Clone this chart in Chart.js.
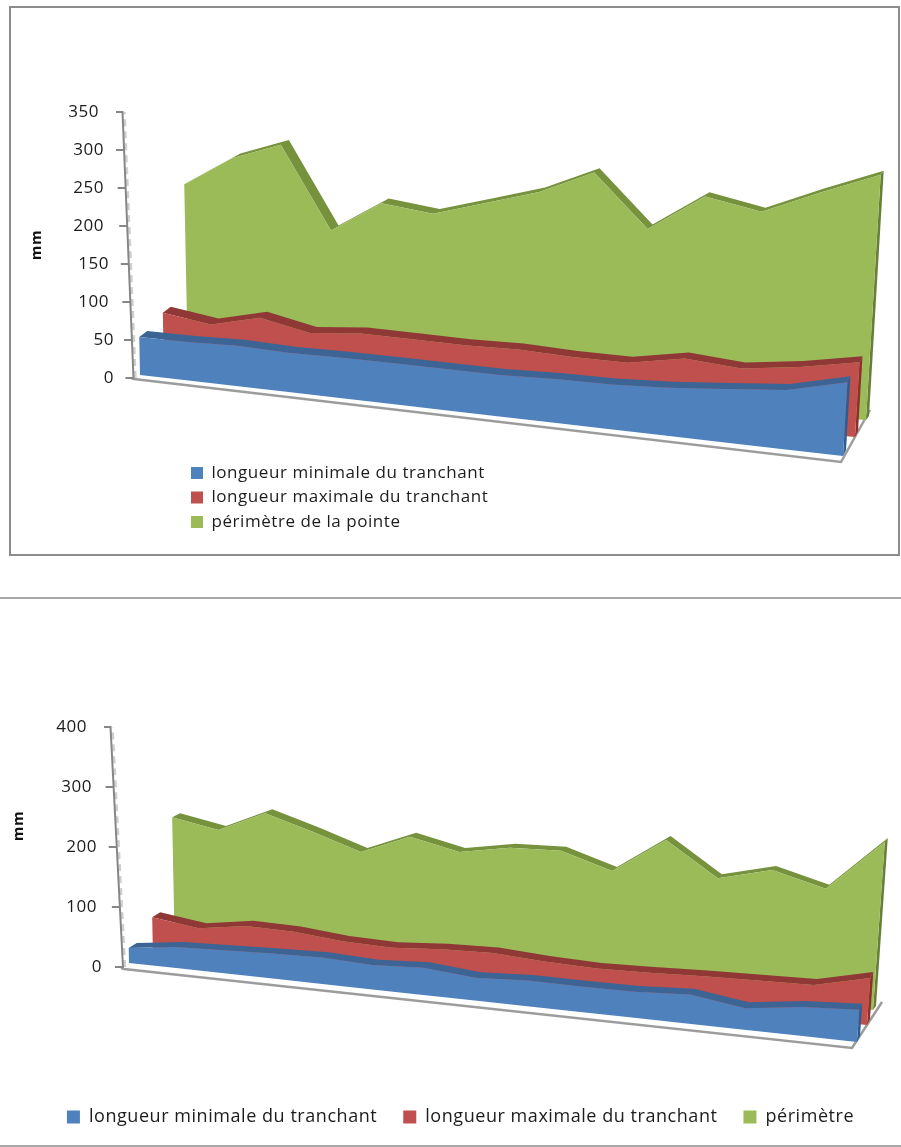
<!DOCTYPE html>
<html lang="fr">
<head>
<meta charset="utf-8">
<title>Longueur du tranchant et périmètre</title>
<script src="https://cdn.jsdelivr.net/npm/chart.js@4/dist/chart.umd.min.js"></script>
<style>
  body { margin: 0; background: #fff; width: 901px; height: 1147px; position: relative; overflow: hidden; }
  canvas { position: absolute; left: 0; }
  .box { position: absolute; left: 9px; top: 6px; width: 887px; height: 546px; border: 2px solid #8c8c8c; }
  .rule { position: absolute; left: 0; width: 901px; height: 2px; background: #a8a8a8; }
</style>
</head>
<body>
<div class="box"></div>
<div class="rule" style="top:597px"></div>
<div class="rule" style="top:1145px"></div>
<canvas id="chart1" width="901" height="590" style="top:0"></canvas>
<canvas id="chart2" width="901" height="567" style="top:580px"></canvas>
<script>
// first chart
const names1 = ['longueur minimale du tranchant', 'longueur maximale du tranchant', 'périmètre de la pointe'];
const minimale1 = [50, 49, 50, 47, 47, 46, 45, 44, 45, 45, 47, 51, 55, 67];
const maximale1 = [78, 66, 78, 63, 66, 63, 60, 59, 55, 53, 61, 55, 60, 68];
const pointe1 = [247, 276, 288, 181, 211, 197, 207, 217, 235, 176, 207, 191, 208, 223];
const ticks1 = [0, 50, 100, 150, 200, 250, 300, 350];

// second chart
const names2 = ['longueur minimale du tranchant', 'longueur maximale du tranchant', 'périmètre'];
const minimale2 = [25, 34, 36, 38, 39, 35, 38, 31, 34, 33, 33, 36, 26, 34, 37];
const maximale2 = [68, 55, 64, 60, 51, 47, 50, 50, 44, 40, 40, 41, 41, 41, 54];
const perimetre2 = [238, 215, 240, 210, 179, 201, 179, 185, 181, 155, 195, 148, 159, 138, 193];
const ticks2 = [0, 100, 200, 300, 400];

const colors = [
  { face: '#4f81bd', roof: '#3c6494', end: '#2f5d92' },
  { face: '#c0504d', roof: '#8f3836', end: '#8f2f2d' },
  { face: '#9bbb59', roof: '#76923c', end: '#66803a' }
];
const FONT = '"Open Sans", sans-serif';
const AREA_TOP = 20;

const lerp = (a, b, t) => a + (b - a) * t;

// perspective of the 3D view, in page pixels
const view1 = {
  top: 0, areaBottom: 470, axisWidth: 116, titlePad: 28, y0: 378, k0: 0.76, k1: 1.1, bend: 0.89,
  lean0: -0.02, lean1: 0.06, tickShift: 2.7, tickFont: 17,
  bases: [
    { x0: 140, y0: 375, x1: 843, y1: 456, roof0: [8, -6], roof1: [3, -6] },
    { x0: 164, y0: 372, x1: 855, y1: 437, roof0: [8, -6], roof1: [3, -6] },
    { x0: 188, y0: 372, x1: 866, y1: 420, roof0: [9, -5], roof1: [3, -4] }
  ],
  axis: [133.5, 122.5],
  floor: [[131, 378], [134, 379], [841, 462], [870, 410]],
  legend: { position: 'chartArea', left: 183.5, top: 457, font: 17, padding: 7.5, box: 12 }
};
const view2 = {
  top: 580, areaBottom: 472, axisWidth: 104, titlePad: 10, y0: 967, k0: 0.6, k1: 0.87, bend: 0.9,
  lean0: -0.02, lean1: 0.07, tickShift: 2.7, tickFont: 17,
  bases: [
    { x0: 129, y0: 963, x1: 857, y1: 1042, roof0: [8, -5], roof1: [3, -6] },
    { x0: 153, y0: 958, x1: 867, y1: 1025, roof0: [8, -5], roof1: [3, -6] },
    { x0: 175, y0: 960, x1: 873, y1: 1010, roof0: [8, -4], roof1: [3, -4] }
  ],
  axis: [123, 110.5],
  floor: [[121, 968], [124, 969], [852, 1048], [882, 1002]],
  legend: { position: 'bottom', dx: 10, dy: 30, font: 18, padding: 26, box: 13, paddingBottom: 41 }
};

const project = (view, base, i, n, v) => {
  const t = i / (n - 1);
  const f = view.bend * t + (1 - view.bend) * t * t;
  const h = v * lerp(view.k0, view.k1, t);
  return {
    x: lerp(base.x0, base.x1, f) + lerp(view.lean0, view.lean1, t) * h,
    y: lerp(base.y0, base.y1, f) - h,
    t
  };
};

const toData = (view, p) => ({ x: p.x, y: (view.y0 - p.y) / view.k0 });

const shift = (base, p) => ({
  x: p.x + lerp(base.roof0[0], base.roof1[0], p.t),
  y: p.y + lerp(base.roof0[1], base.roof1[1], p.t),
  t: p.t
});

const polygon = (label, color, points, view) => ({
  label,
  data: points.map(p => toData(view, p)),
  showLine: true,
  fill: 'shape',
  backgroundColor: color,
  borderColor: color,
  borderWidth: 0,
  pointRadius: 0
});

const buildDatasets = (view, names, series, ticks) => {
  const sets = [];
  series.forEach((values, s) => {
    const base = view.bases[s];
    const n = values.length;
    const tops = values.map((v, i) => project(view, base, i, n, v));
    const feet = values.map((v, i) => project(view, base, i, n, 0));
    const lastTop = tops[n - 1];
    const lastFoot = feet[n - 1];
    sets.push(polygon(names[s], colors[s].face, [...tops, ...feet.slice().reverse()], view));
    sets.push(polygon('', colors[s].roof, [...tops, ...tops.map(p => shift(base, p)).reverse()], view));
    sets.push(polygon('', colors[s].end, [lastTop, shift(base, lastTop), shift(base, lastFoot), lastFoot], view));
  });

  // slanted value axis with its tick marks, then the edge of the floor
  const maxTick = ticks[ticks.length - 1];
  const axisX = v => lerp(view.axis[0], view.axis[1], v / maxTick);
  const axisPoints = [];
  ticks.forEach(v => {
    axisPoints.push({ x: axisX(v), y: v }, { x: axisX(v) - 8, y: v }, { x: axisX(v), y: v });
  });
  sets.push({
    label: '', data: axisPoints, showLine: true, fill: false, borderColor: '#868686',
    borderWidth: 2, pointRadius: 0
  });
  sets.push({
    label: '', data: ticks.map(v => ({ x: axisX(v) + 2, y: v })), showLine: true, fill: false,
    borderColor: '#cfcfcf', borderWidth: 2.5, borderDash: [7, 5], pointRadius: 0
  });
  const floor = view.floor.map(([x, y]) => toData(view, { x, y }));
  sets.push({
    label: '', data: floor, showLine: true, fill: false, borderColor: '#9c9c9c',
    borderWidth: 2.5, pointRadius: 0
  });
  return sets;
};

// chart.js has no free legend position, so move the box once the layout is done
const moveLegend = {
  id: 'moveLegend',
  afterInit(chart) {
    // the original text is set rather loose
    chart.ctx.letterSpacing = '0.55px';
  },
  afterLayout(chart, args, opts) {
    const legend = chart.legend;
    if (opts.left !== undefined) {
      legend.left = opts.left;
      legend.top = opts.top;
      legend.right = opts.left + 400;
      legend.bottom = opts.top + 120;
    } else {
      legend.left += opts.dx;
      legend.right += opts.dx;
      legend.top += opts.dy;
      legend.bottom += opts.dy;
    }
  }
};

const drawChart = (id, view, names, series, ticks) => {
  const maxTick = ticks[ticks.length - 1];
  const height = document.getElementById(id).height;
  const leg = view.legend;
  new Chart(document.getElementById(id), {
    type: 'scatter',
    data: { datasets: buildDatasets(view, names, series, ticks) },
    plugins: [moveLegend],
    options: {
      responsive: false,
      animation: false,
      events: [],
      layout: {
        padding: {
          top: AREA_TOP, left: 0, right: 0,
          bottom: leg.paddingBottom !== undefined ? leg.paddingBottom : height - view.areaBottom
        }
      },
      plugins: {
        tooltip: { enabled: false },
        title: { display: false },
        moveLegend: { left: leg.left, top: leg.top, dx: leg.dx, dy: leg.dy },
        legend: {
          position: leg.position,
          align: leg.position === 'chartArea' ? 'start' : 'center',
          labels: {
            color: '#1c1c1c',
            font: { family: FONT, size: leg.font },
            boxWidth: leg.box,
            boxHeight: leg.box,
            padding: leg.padding,
            filter: item => item.text !== ''
          }
        }
      },
      scales: {
        x: { type: 'linear', display: false, min: view.axisWidth, max: 901 },
        y: {
          type: 'linear',
          min: (view.y0 - view.top - view.areaBottom) / view.k0,
          max: (view.y0 - view.top - AREA_TOP) / view.k0,
          border: { display: false },
          grid: { display: false, drawTicks: false },
          title: {
            display: true,
            text: 'mm',
            color: '#111',
            padding: { top: view.titlePad, bottom: 0 },
            font: { family: FONT, size: 15, weight: 'bold' }
          },
          ticks: {
            color: '#1c1c1c',
            padding: 2,
            autoSkip: false,
            font: { family: FONT, size: view.tickFont },
            callback: value => value + ' '.repeat(Math.round(value / maxTick * view.tickShift))
          },
          afterBuildTicks: scale => { scale.ticks = ticks.map(value => ({ value })); },
          afterFit: scale => { scale.width = view.axisWidth; }
        }
      }
    }
  });
};

drawChart('chart1', view1, names1, [minimale1, maximale1, pointe1], ticks1);
drawChart('chart2', view2, names2, [minimale2, maximale2, perimetre2], ticks2);
</script>
</body>
</html>
